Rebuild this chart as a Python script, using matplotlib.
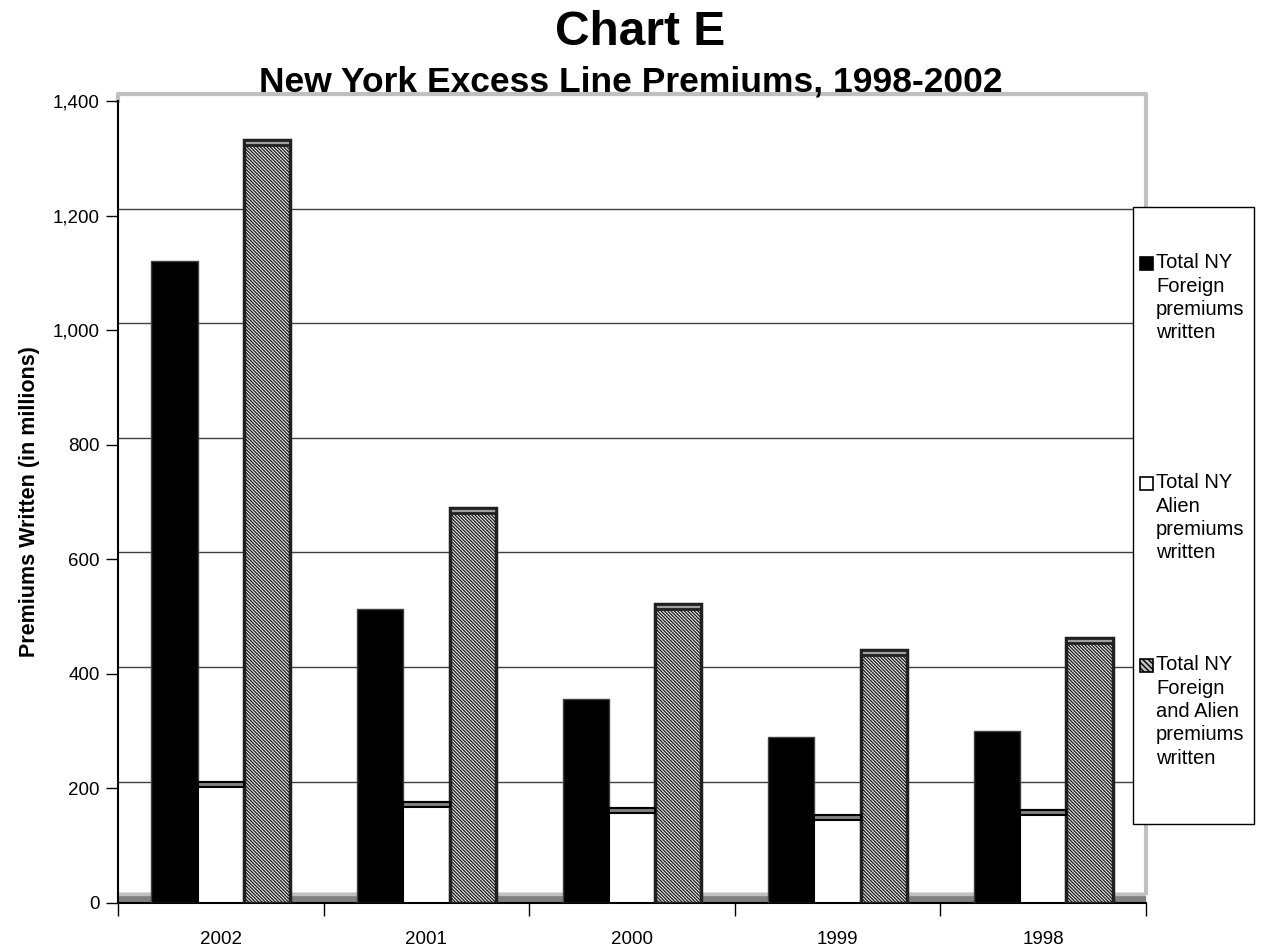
import matplotlib.pyplot as plt
import matplotlib.ticker as mticker
import numpy as np

plt.rcParams['font.family'] = ['Liberation Sans', 'DejaVu Sans']
plt.rcParams['hatch.linewidth'] = 1.0

# Data (premiums written, in millions)
years = ['2002', '2001', '2000', '1999', '1998']
foreign = [1120, 513, 356, 289, 300]
alien = [212, 177, 166, 153, 162]
total = [1332, 690, 522, 442, 462]

legend_labels = ['Total NY\nForeign\npremiums\nwritten',
                 'Total NY\nAlien\npremiums\nwritten',
                 'Total NY\nForeign\nand Alien\npremiums\nwritten']

fig = plt.figure(figsize=(12.61, 9.48), dpi=100)
ax = fig.add_axes([0.0936, 0.0475, 0.8152, 0.846])

x = np.arange(len(years))
w = 0.225
cap = 9  # thin 3D top face
hatch = '\\' * 10

# floor and back wall
ax.axhspan(0, 17, color='#808080', zorder=0)
ax.axhspan(14, 17, color='#c0c0c0', zorder=0)
for v in range(200, 1400, 200):
    ax.axhline(v + 12, color='#404040', lw=1, zorder=1)
ax.plot([-0.5, -0.5, 4.5, 4.5], [1400, 1412, 1412, 17], color='#c0c0c0',
        lw=3, clip_on=False, zorder=1)

# bars
ax.bar(x - w, foreign, w, color='black', edgecolor='#404040', lw=1, zorder=3)
ax.bar(x, alien, w, color='white', edgecolor='black', lw=1.5, zorder=3)
ax.bar(x, [cap] * 5, w, bottom=np.array(alien) - cap, color='#808080',
       edgecolor='black', lw=1.5, zorder=4)
ax.bar(x + w, total, w, color='white', edgecolor='#202020', hatch=hatch,
       lw=2.5, zorder=3)
ax.bar(x + w, [cap] * 5, w, bottom=np.array(total) - cap, color='#a0a0a0',
       edgecolor='#202020', lw=2, zorder=4)

ax.set_xlim(-0.5, 4.5)
ax.set_ylim(0, 1400)
ax.set_yticks(range(0, 1401, 200))
ax.yaxis.set_major_formatter(mticker.FuncFormatter(lambda v, p: f'{int(v):,}'))
ax.tick_params(axis='y', direction='out', length=9, width=1, labelsize=13.5, pad=4)

ax.set_xticks(np.arange(-0.5, 5, 1))
ax.set_xticklabels([])
ax.set_xticks(x, minor=True)
ax.set_xticklabels(years, minor=True)
ax.tick_params(axis='x', which='major', direction='out', length=9, width=1)
ax.tick_params(axis='x', which='minor', length=0, labelsize=13.5, pad=20)

for s in ['top', 'right']:
    ax.spines[s].set_visible(False)
ax.spines['left'].set_linewidth(1.5)
ax.spines['bottom'].set_linewidth(1.5)

ax.set_ylabel('Premiums Written (in millions)', fontsize=15.5, fontweight='bold',
              labelpad=9)

fig.text(0.508, 0.966, 'Chart E', ha='center', va='center', fontsize=34.5,
         fontweight='bold')
fig.text(0.5, 0.914, 'New York Excess Line Premiums, 1998-2002', ha='center',
         va='center', fontsize=25.5, fontweight='bold')

# legend box
fig.patches.append(plt.Rectangle((1133 / 1261, 1 - 824 / 948), 121 / 1261, 617 / 948,
                                 transform=fig.transFigure, facecolor='white',
                                 edgecolor='black', lw=1, zorder=5))
entry_tops = [253, 473, 655]
styles = [dict(facecolor='black', edgecolor='black'),
          dict(facecolor='white', edgecolor='black'),
          dict(facecolor='#c0c0c0', edgecolor='black', hatch='\\' * 6)]
for top, lab, st in zip(entry_tops, legend_labels, styles):
    fig.patches.append(plt.Rectangle((1140 / 1261, 1 - (top + 17) / 948), 13 / 1261, 13 / 948,
                                     transform=fig.transFigure, lw=1.2, zorder=6, **st))
    fig.text(1156 / 1261, 1 - top / 948, lab, ha='left', va='top', fontsize=14.5,
             linespacing=1.3, zorder=6)

fig.savefig('out.png', dpi=100)
